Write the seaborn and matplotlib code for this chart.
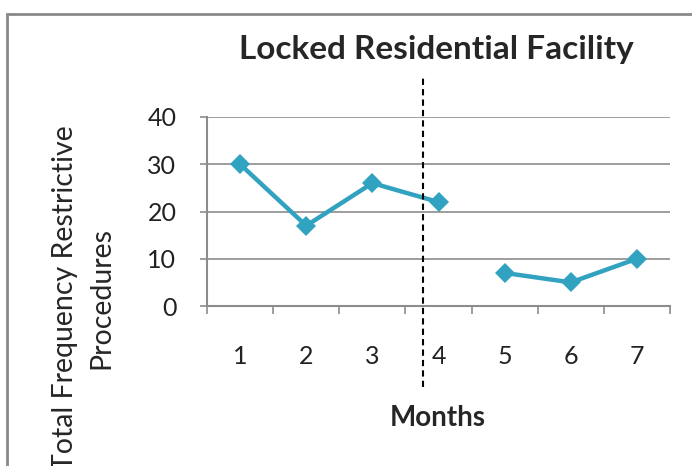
import matplotlib
matplotlib.use("Agg")
import matplotlib.pyplot as plt
import seaborn as sns
import pandas as pd
from matplotlib.patches import Rectangle

# data
months = [1, 2, 3, 4, 5, 6, 7]
values = [30, 17, 26, 22, 7, 5, 10]
phase = ["A", "A", "A", "A", "B", "B", "B"]
y_ticks = [0, 10, 20, 30, 40]
phase_change = 3.77

line_color = "#31A2BF"
grid_color = "#8C8C8C"

sns.set_style("white")
plt.rcParams["font.family"] = ["Lato", "DejaVu Sans"]

df = pd.DataFrame({"month": months, "value": values, "phase": phase})

fig = plt.figure(figsize=(6.92, 4.66), dpi=100)
ax = fig.add_axes([207 / 692, 1 - 306 / 466, (670 - 207) / 692, (306 - 117) / 466])

sns.lineplot(data=df, x="month", y="value", hue="phase",
             palette=[line_color, line_color], marker="D", markersize=10,
             markeredgewidth=0, linewidth=3.2, legend=False, ax=ax, zorder=3)

ax.set_xlim(0.5, 7.5)
ax.set_ylim(0, 40)
ax.set_yticks(y_ticks)
ax.set_xticks(months)
ax.set_xticks([m - 0.5 for m in months] + [7.5], minor=True)
ax.yaxis.grid(True, color=grid_color, linewidth=1.2)
ax.set_axisbelow(True)

for side in ["top", "right"]:
    ax.spines[side].set_visible(False)
for side in ["left", "bottom"]:
    ax.spines[side].set_color(grid_color)
    ax.spines[side].set_linewidth(1.5)

ax.tick_params(axis="y", which="major", direction="out", length=5, width=1.2,
               color=grid_color, pad=17, labelsize=18, labelcolor="#222222", left=True)
ax.tick_params(axis="x", which="major", length=0, pad=28, labelsize=18, labelcolor="#222222")
ax.tick_params(axis="x", which="minor", direction="out", length=6, width=1.2,
               color=grid_color, bottom=True)

ax.set_xlabel("")
ax.set_ylabel("")

# phase change line
ax.axvline(phase_change, ymin=-0.43, ymax=1.21, color="black", linestyle=(0, (3, 2)),
           linewidth=1.5, clip_on=False, zorder=4)

fig.text(436 / 692, 1 - 49 / 466, "Locked Residential Facility", ha="center", va="center",
         fontsize=24, fontweight="bold")
fig.text(438 / 692, 1 - 418 / 466, "Months", ha="center", va="center",
         fontsize=20, fontweight="bold")
fig.text(83 / 692, 1 - 298 / 466, "Total Frequency Restrictive\nProcedures", ha="center",
         va="center", rotation=90, fontsize=20.5, linespacing=1.5)

# chart frame
fig.add_artist(Rectangle((7 / 692, -0.1), 1.2, 1 - 14 / 466 + 0.1, transform=fig.transFigure,
                         fill=False, edgecolor="#8A8A8A", linewidth=2))

fig.savefig("out.png", dpi=100)
